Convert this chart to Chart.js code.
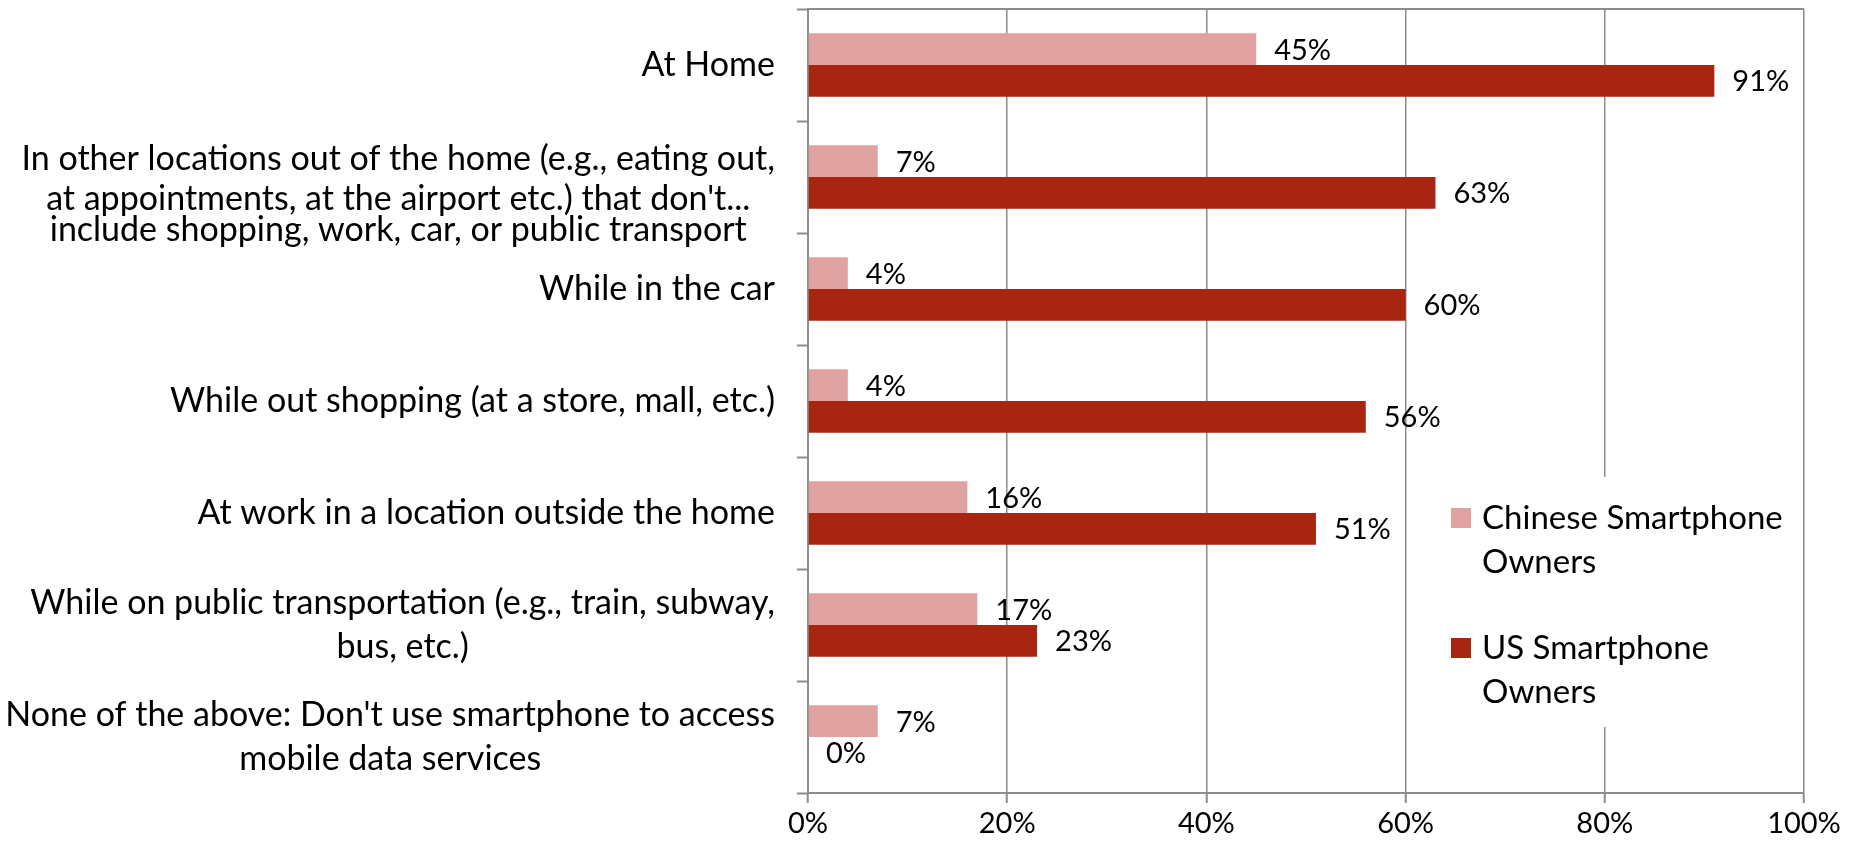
<!DOCTYPE html>
<html>
<head>
<meta charset="utf-8">
<title>Where smartphones are used to access mobile data</title>
<script src="https://cdn.jsdelivr.net/npm/chart.js@4.4.1/dist/chart.umd.min.js"></script>
<style>
  html, body { margin: 0; padding: 0; background: #ffffff; }
  #wrap { width: 1854px; height: 846px; }
</style>
</head>
<body>
<div id="wrap"><canvas id="chart" width="1854" height="846"></canvas></div>
<script>
// Locations, one entry per row; each entry holds the lines of its label.
const categories = [
  ['At Home'],
  ['In other locations out of the home (e.g., eating out,',
   "at appointments, at the airport etc.) that don't...",
   'include shopping, work, car, or public transport'],
  ['While in the car'],
  ['While out shopping (at a store, mall, etc.)'],
  ['At work in a location outside the home'],
  ['While on public transportation (e.g., train, subway,', 'bus, etc.)'],
  ["None of the above: Don't use smartphone to access", 'mobile data services']
];

// Share of owners (%) using a smartphone for mobile data in each location.
const chineseOwners = [45, 7, 4, 4, 16, 17, 7];
const usOwners = [91, 63, 60, 56, 51, 23, 0];

const seriesNames = [
  ['Chinese Smartphone', 'Owners'],
  ['US Smartphone', 'Owners']
];

const percentTicks = [0, 20, 40, 60, 80, 100];

const FONT = 'Lato';
const INK = '#000000';
const GRID_GREY = '#8c8c8c';
const CN_COLOR = '#e0a1a1';
const US_COLOR = '#a82512';

Chart.defaults.font.family = FONT;
Chart.defaults.color = INK;

// Row labels: the block sits right-aligned against the axis, its lines centred
// on each other. Two-line labels are centred on the row; longer labels keep
// their second line in the same place and pack the other lines tighter.
const categoryLabels = {
  id: 'categoryLabels',
  afterDraw(chart) {
    const { ctx } = chart;
    const y = chart.scales.y;
    const rightEdge = y.right - 33;
    const lineGap = 44;
    ctx.save();
    ctx.font = `34px ${FONT}`;
    ctx.fillStyle = INK;
    ctx.textAlign = 'center';
    ctx.textBaseline = 'middle';
    categories.forEach((lines, i) => {
      const widest = Math.max(...lines.map(l => ctx.measureText(l).width));
      const cx = rightEdge - widest / 2;
      const mid = y.getPixelForValue(i);
      let positions;
      if (lines.length === 1) {
        positions = [mid];
      } else if (lines.length === 2) {
        positions = [mid - lineGap / 2, mid + lineGap / 2];
      } else {
        const second = mid + lineGap / 2;
        positions = lines.map((_, k) => k === 0 ? second - 40 : second + (k - 1) * 31);
      }
      lines.forEach((line, k) => ctx.fillText(line, cx, positions[k]));
    });
    ctx.restore();
  }
};

// Top edge of the plot frame (the right edge is the 100% grid line).
const plotFrame = {
  id: 'plotFrame',
  beforeDatasetsDraw(chart) {
    const { ctx, chartArea } = chart;
    ctx.save();
    ctx.strokeStyle = GRID_GREY;
    ctx.lineWidth = 2;
    ctx.beginPath();
    ctx.moveTo(chartArea.left, chartArea.top);
    ctx.lineTo(chartArea.right, chartArea.top);
    ctx.stroke();
    ctx.restore();
  }
};

// Percent value printed just past the end of every bar.
const valueLabels = {
  id: 'valueLabels',
  afterDatasetsDraw(chart) {
    const { ctx } = chart;
    ctx.save();
    ctx.font = `29px ${FONT}`;
    ctx.fillStyle = INK;
    ctx.textAlign = 'left';
    ctx.textBaseline = 'middle';
    chart.data.datasets.forEach((ds, di) => {
      const meta = chart.getDatasetMeta(di);
      meta.data.forEach((bar, i) => {
        ctx.fillText(ds.data[i] + '%', bar.x + 18, bar.y + 1);
      });
    });
    ctx.restore();
  }
};

// Legend panel inside the plot, on a white ground over the grid.
const insideLegend = {
  id: 'insideLegend',
  afterDraw(chart) {
    const { ctx, chartArea } = chart;
    const boxLeft = chartArea.right - 370;
    const boxTop = chartArea.top + 468;
    ctx.save();
    ctx.fillStyle = '#ffffff';
    ctx.fillRect(boxLeft, boxTop, 366, 250);
    ctx.font = `33px ${FONT}`;
    ctx.textAlign = 'left';
    ctx.textBaseline = 'middle';
    const swatchX = chartArea.right - 353;
    const textX = swatchX + 31;
    chart.data.datasets.forEach((ds, di) => {
      const firstLine = chartArea.top + 508 + di * 130;
      ctx.fillStyle = ds.backgroundColor;
      ctx.fillRect(swatchX, firstLine - 9, 20, 20);
      ctx.fillStyle = INK;
      seriesNames[di].forEach((line, k) => {
        ctx.fillText(line, textX, firstLine + 1 + k * 44);
      });
    });
    ctx.restore();
  }
};

new Chart(document.getElementById('chart'), {
  type: 'bar',
  data: {
    labels: categories,
    datasets: [
      {
        label: seriesNames[0].join(' '),
        data: chineseOwners,
        backgroundColor: CN_COLOR,
        borderWidth: 0,
        categoryPercentage: 0.566,
        barPercentage: 1
      },
      {
        label: seriesNames[1].join(' '),
        data: usOwners,
        backgroundColor: US_COLOR,
        borderWidth: 0,
        categoryPercentage: 0.566,
        barPercentage: 1
      }
    ]
  },
  options: {
    indexAxis: 'y',
    responsive: false,
    animation: false,
    devicePixelRatio: 1,
    layout: { padding: { top: 9, right: 50, bottom: 0, left: 0 } },
    plugins: {
      legend: { display: false },
      tooltip: { enabled: false }
    },
    scales: {
      x: {
        min: 0,
        max: 100,
        afterBuildTicks: s => { s.ticks = percentTicks.map(v => ({ value: v })); },
        afterFit: s => { s.height = 53; },
        ticks: {
          padding: 3,
          font: { size: 29, family: FONT },
          color: INK,
          callback: v => v + '%'
        },
        grid: {
          color: GRID_GREY,
          lineWidth: 1.5,
          drawTicks: true,
          tickLength: 10,
          tickColor: GRID_GREY,
          tickWidth: 2
        },
        border: { display: true, color: GRID_GREY, width: 2 }
      },
      y: {
        afterFit: s => { s.width = 808; },
        ticks: { display: false },
        grid: {
          offset: true,
          drawOnChartArea: false,
          drawTicks: true,
          tickLength: 11,
          tickColor: GRID_GREY,
          tickWidth: 2
        },
        border: { display: true, color: GRID_GREY, width: 2 }
      }
    }
  },
  plugins: [plotFrame, valueLabels, categoryLabels, insideLegend]
});
</script>
</body>
</html>
